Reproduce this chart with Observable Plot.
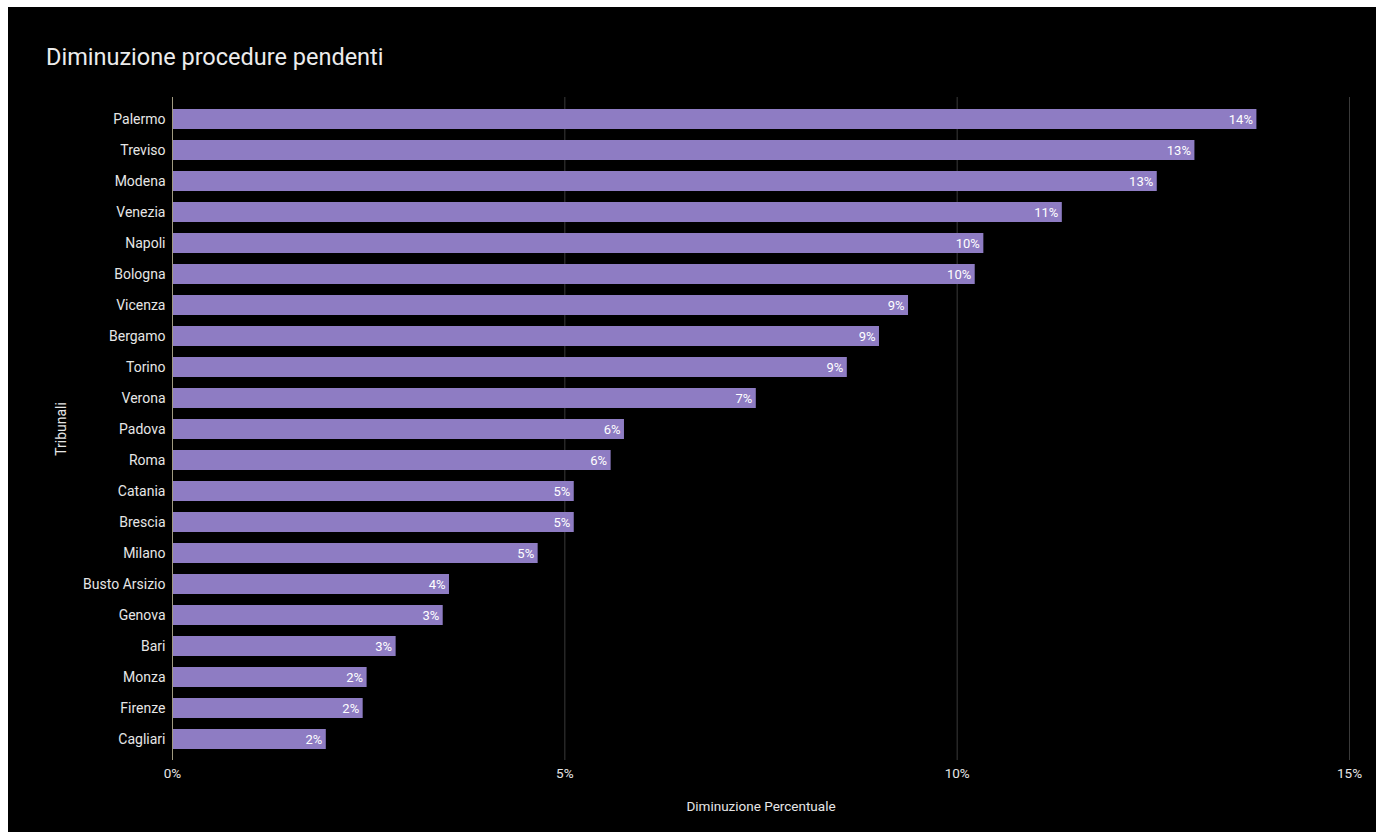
<!DOCTYPE html>
<html>
<head>
<meta charset="utf-8">
<script src="https://cdn.jsdelivr.net/npm/d3@7"></script>
<script src="https://cdn.jsdelivr.net/npm/@observablehq/plot@0.6"></script>
<style>
  html, body { margin: 0; padding: 0; background: #ffffff; width: 1376px; height: 832px; overflow: hidden; }
  #frame { position: absolute; left: 8px; top: 7px; width: 1368px; height: 825px; background: #000000; font-family: Roboto, "Noto Sans", sans-serif; }
  #title { position: absolute; left: 38px; top: 36px; font-size: 23.5px; color: #ececec; font-family: Roboto, sans-serif; }
  #chart { position: absolute; left: 0; top: 78px; }
</style>
</head>
<body>
<div id="frame">
  <div id="title">Diminuzione procedure pendenti</div>
  <div id="chart"></div>
</div>
<script>
const tribunali = ["Palermo","Treviso","Modena","Venezia","Napoli","Bologna","Vicenza","Bergamo","Torino","Verona","Padova","Roma","Catania","Brescia","Milano","Busto Arsizio","Genova","Bari","Monza","Firenze","Cagliari"];
const diminuzione = [13.82,13.03,12.55,11.34,10.34,10.23,9.38,9.01,8.60,7.44,5.76,5.59,5.12,5.12,4.66,3.53,3.45,2.85,2.48,2.43,1.96];
const xTicks = [0, 5, 10, 15];
const gridTicks = [5, 10, 15];

const data = tribunali.map((t, i) => ({tribunale: t, valore: diminuzione[i]}));

const chart = Plot.plot({
  width: 1368,
  height: 740,
  marginLeft: 164,
  marginRight: 27,
  marginTop: 12,
  marginBottom: 65,
  style: {background: "#000000", color: "#e6e6e6", fontFamily: "Roboto, sans-serif"},
  x: {domain: [0, 15]},
  y: {domain: tribunali, paddingInner: 0.36, paddingOuter: 0.32},
  marks: [
    Plot.ruleX(gridTicks, {stroke: "#3a3a3a", strokeWidth: 1}),
    Plot.barX(data, {x: "valore", y: "tribunale", fill: "#8e7cc3"}),
    Plot.ruleX([0], {stroke: "#a09a80", strokeWidth: 1}),
    Plot.text(data, {x: "valore", y: "tribunale", text: d => Math.round(d.valore) + "%", textAnchor: "end", dx: -4, fill: "#ffffff", fontSize: 13}),
    Plot.axisY({tickSize: 0, tickPadding: 7, fontSize: 14, label: "Tribunali", labelAnchor: "center", labelOffset: 116, labelArrow: "none", color: "#e6e6e6"}),
    Plot.axisX({ticks: xTicks, tickSize: 0, tickPadding: 8, fontSize: 13.5, tickFormat: d => d + "%", label: "Diminuzione Percentuale", labelAnchor: "center", labelOffset: 50, labelArrow: "none", color: "#e6e6e6"})
  ]
});
document.getElementById("chart").appendChild(chart);
</script>
</body>
</html>
